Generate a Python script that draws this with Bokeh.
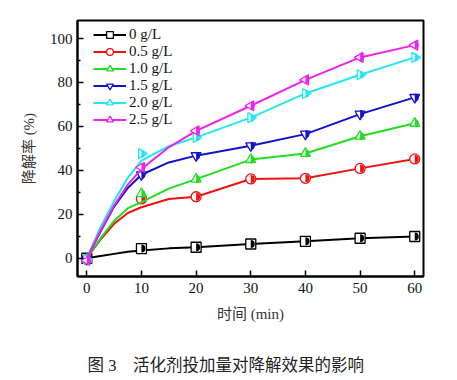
import numpy as np
from bokeh.plotting import figure
from bokeh.models import FixedTicker, Range1d, Legend, LegendItem, Title
from bokeh.embed import file_html
from bokeh.resources import INLINE

# ---- data ----
series_names = ["0 g/L", "0.5 g/L", "1.0 g/L", "1.5 g/L", "2.0 g/L", "2.5 g/L"]
colors = ["#000000", "#ee1111", "#22dd22", "#1111cc", "#22e6f2", "#ee22ee"]
markers = ["square", "circle", "triangle", "inverted_triangle", "triangle", "triangle"]
marker_angles = [0, 0, 0, 0, -np.pi / 2, np.pi / 2]

t_marker = [0, 10, 20, 30, 40, 50, 60]
m_0 = [0, 4.4, 5.0, 6.5, 7.7, 9.1, 9.9]
m_05 = [-0.5, 27.0, 28.0, 36.1, 36.4, 40.9, 45.2]
m_10 = [-0.5, 29.4, 36.0, 44.9, 47.7, 55.5, 61.4]
m_15 = [-0.5, 38.0, 46.7, 51.2, 56.5, 65.6, 73.2]
m_20 = [-0.5, 47.6, 55.0, 64.0, 75.0, 83.5, 91.4]
m_25 = [-1.0, 41.4, 58.0, 69.4, 81.2, 91.4, 97.0]

t_line = [0, 2.5, 5, 7.5, 10, 15, 20, 30, 40, 50, 60]
l_0 = [0, 1.0, 2.0, 3.0, 3.5, 4.5, 5.0, 6.5, 7.7, 9.1, 9.9]
l_05 = [0, 8.5, 15.7, 20.6, 23.2, 27.0, 28.0, 36.1, 36.4, 40.9, 45.2]
l_10 = [0, 9.0, 17.0, 22.8, 25.5, 31.7, 36.0, 44.9, 47.7, 55.5, 61.4]
l_15 = [0, 12.0, 23.5, 32.0, 38.0, 43.6, 46.7, 51.2, 56.5, 65.6, 73.2]
l_20 = [0, 14.0, 26.0, 36.6, 44.4, 51.0, 55.0, 64.0, 75.0, 83.5, 91.4]
l_25 = [0, 12.5, 24.0, 33.5, 40.6, 50.5, 58.0, 69.4, 81.2, 91.4, 97.0]

marker_vals = [m_0, m_05, m_10, m_15, m_20, m_25]
line_vals = [l_0, l_05, l_10, l_15, l_20, l_25]

x_ticks = [0, 10, 20, 30, 40, 50, 60]
y_ticks = [0, 20, 40, 60, 80, 100]
y_minor = [10, 30, 50, 70, 90]

SERIF = "Liberation Serif"
MIXED = "Liberation Serif, Noto Sans CJK SC"

p = figure(width=457, height=380, output_backend="svg", toolbar_location=None,
           frame_width=346, frame_height=256,
           x_range=Range1d(-1.7, 61.6), y_range=Range1d(-8.3, 108.2),
           min_border_left=77, min_border_right=34, min_border_top=20, min_border_bottom=104)
p.grid.visible = False
p.outline_line_color = "#000000"
p.outline_line_width = 2
p.background_fill_color = "white"
p.border_fill_color = "white"

for ax in (p.xaxis[0], p.yaxis[0]):
    ax.axis_line_width = 2
    ax.major_tick_in = 6
    ax.major_tick_out = 0
    ax.major_tick_line_width = 1.5
    ax.major_label_text_font = SERIF
    ax.major_label_text_font_size = "15px"
    ax.major_label_text_color = "#111111"
    ax.axis_label_text_font = MIXED
    ax.axis_label_text_font_size = "15px"
    ax.axis_label_text_font_style = "normal"
    ax.axis_label_text_color = "#333333"

p.xaxis.ticker = FixedTicker(ticks=x_ticks)
p.xaxis.minor_tick_line_color = None
p.xaxis.major_label_standoff = 6
p.xaxis.axis_label = "时间 (min)"
p.xaxis.axis_label_standoff = 10

p.yaxis.ticker = FixedTicker(ticks=y_ticks, minor_ticks=y_minor)
p.yaxis.minor_tick_in = 3
p.yaxis.minor_tick_out = 0
p.yaxis.minor_tick_line_width = 1.5
p.yaxis.major_label_standoff = 5
p.yaxis.axis_label = "降解率 (%)"
p.yaxis.axis_label_standoff = 10

items = []
for name, col, mk, ang, mv, lv in zip(series_names, colors, markers, marker_angles, marker_vals, line_vals):
    r_line = p.line(t_line, lv, line_color=col, line_width=2)
    r_mk = p.scatter(t_marker, mv, marker=mk, angle=ang, size=10, line_color=col,
                     line_width=1.3, fill_color="white")
    p.wedge(t_marker, mv, radius=4, radius_units="screen", start_angle=-np.pi / 2,
            end_angle=np.pi / 2, fill_color=col, line_color=None)
    items.append(LegendItem(label=name, renderers=[r_line, r_mk]))

legend = Legend(items=items, location=(16, 148))
legend.label_text_font = SERIF
legend.label_text_font_size = "15px"
legend.label_text_color = "#111111"
legend.glyph_width = 33
legend.glyph_height = 17
legend.label_height = 17
legend.spacing = 0
legend.padding = 2
legend.margin = 0
legend.label_standoff = 3
legend.border_line_color = None
legend.background_fill_alpha = 0
p.add_layout(legend)

cap = Title(text="图 3\u3000活化剂投加量对降解效果的影响", align="left", offset=10,
            text_font=MIXED, text_font_size="16.5px",
            text_font_style="normal", text_color="#222222", standoff=58)
p.add_layout(cap, "below")

open("out.html", "w").write(file_html(p, INLINE))
